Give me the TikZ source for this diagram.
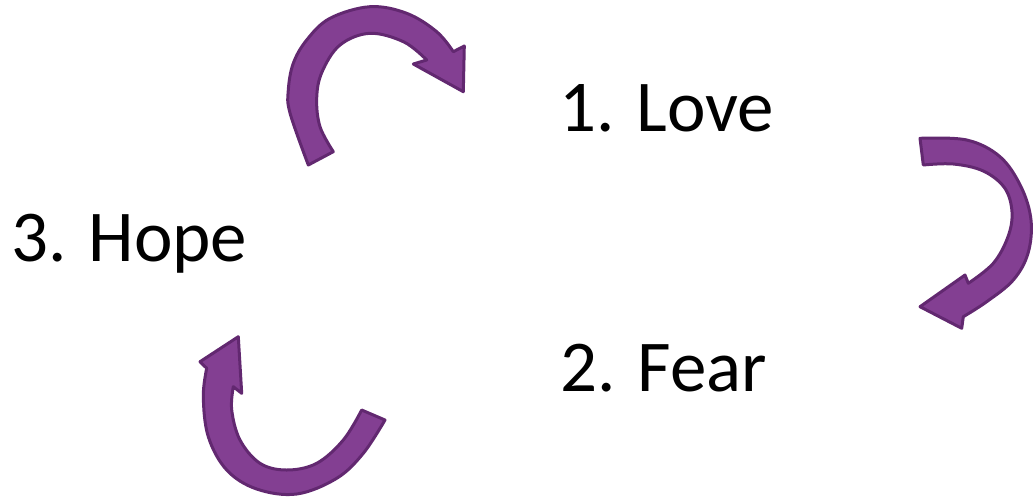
\documentclass[tikz,border=0pt]{standalone}
\usepackage{fontspec}
\setmainfont{Carlito}
\definecolor{arrfill}{RGB}{131,63,146}
\definecolor{arrline}{RGB}{98,40,112}
\begin{document}
\begin{tikzpicture}[x=1pt,y=-1pt,
  blockarrow/.style={fill=arrfill,draw=arrline,line width=3pt,line join=round},
  word/.style={anchor=base west,inner sep=0pt,font=\fontsize{73}{80}\selectfont}]
\useasboundingbox (0,0) rectangle (1033,499);
% top arrow (3 -> 1)
\path[blockarrow] (308.3,165)
  -- plot[smooth,tension=0.6] coordinates {(308.3,165) (290,113) (288.3,90) (293.3,63.3) (306.7,40) (330,18.3) (370,6.7) (406.7,13.3) (436.7,31.7) (453.3,51.7)}
  -- (464.3,46) -- (463.3,91.7) -- (413.3,64) -- (426.7,60)
  -- plot[smooth,tension=0.6] coordinates {(426.7,60) (404,42) (370,33.3) (340,45) (322,72) (316.7,98) (320,126.7) (333.3,151.7)}
  -- cycle;
% right arrow (1 -> 2)
\path[blockarrow] (920,138.3)
  -- plot[smooth,tension=0.6] coordinates {(920,138.3) (966.7,140) (1000,156.7) (1021,186.7) (1031,220) (1028,253.3) (1013.3,280) (986.7,301.7) (963.3,316.7)}
  -- (961.7,328.3) -- (920,306.7) -- (965,275) -- (968.3,283.3)
  -- plot[smooth,tension=0.6] coordinates {(968.3,283.3) (993.3,263.3) (1008,236.7) (1012,212) (1004.7,188) (983.3,171) (953.3,164) (923.3,165)}
  -- cycle;
% bottom arrow (2 -> 3)
\path[blockarrow] (385,420)
  -- plot[smooth,tension=0.6] coordinates {(385,420) (363.3,453.3) (336.7,478.3) (296.7,494) (256.7,489) (226.7,470) (208.3,436.7) (203.3,396.7) (206.7,368.3)}
  -- (200,361.7) -- (238.3,336.7) -- (241.7,393.3) -- (233.3,386.7)
  -- plot[smooth,tension=0.6] coordinates {(233.3,386.7) (231.7,410) (240,440) (260,463.3) (286.7,470) (316.7,463.3) (343.3,440) (361.7,410)}
  -- cycle;
\node[word] (love) at (559,131.7) {1. Love};
\node[word] (fear) at (560,391.7) {2. Fear};
\node[word] (hope) at (11,261.7) {3. Hope};
\end{tikzpicture}
\end{document}
